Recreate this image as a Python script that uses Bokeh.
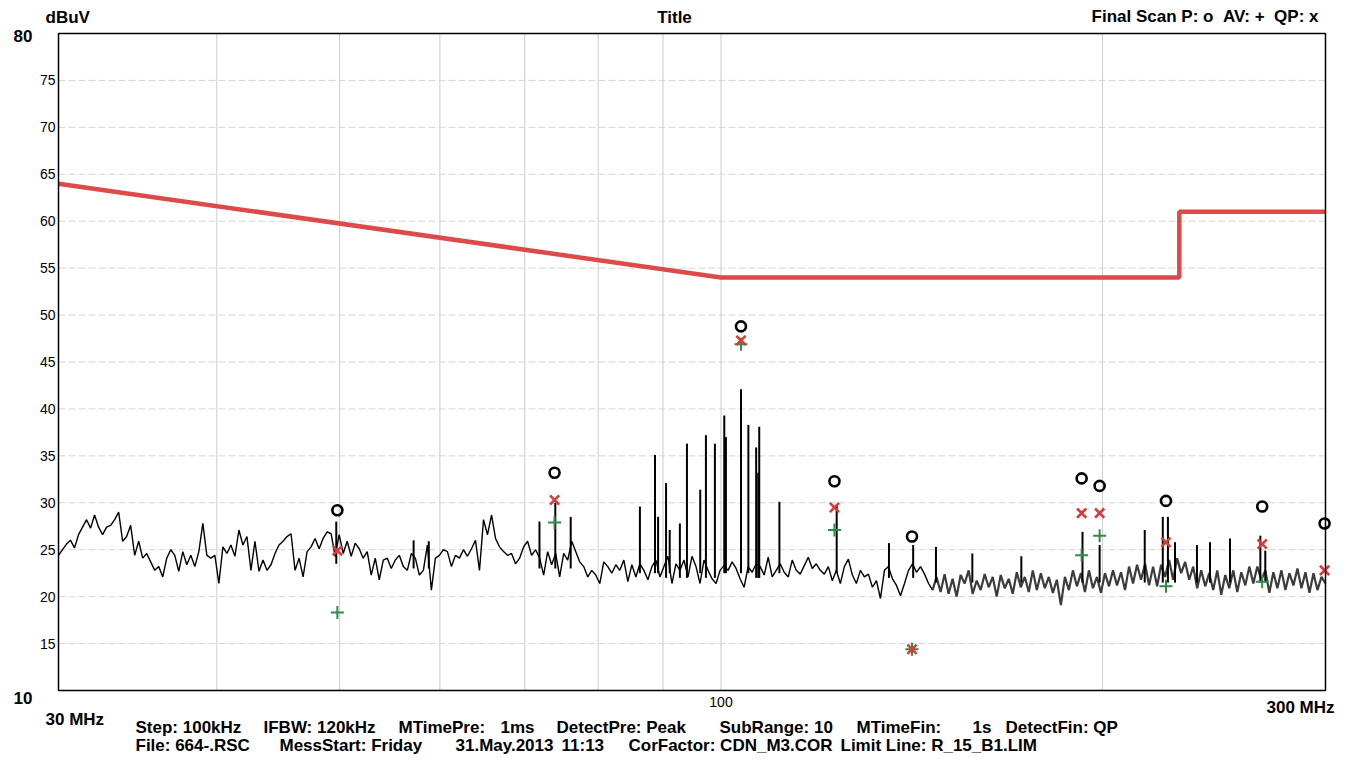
import math
import numpy as np
from bokeh.plotting import figure
from bokeh.models import Range1d
from bokeh.core.properties import value
from bokeh.embed import file_html
from bokeh.resources import INLINE

# ---------------- data ----------------
X_MIN, X_MAX = 30, 300          # MHz
Y_MIN, Y_MAX = 10, 80           # dBuV

limit_mhz = [30, 100, 230, 230, 300]
limit_db = [64.0, 54.0, 54.0, 61.0, 61.0]

# pre-scan trace (peak detector), sampled evenly on the log axis 30..300 MHz
trace_db = [
    24.4, 25.0, 25.6, 26.0, 25.2, 26.6, 27.4, 28.2, 27.3, 28.7, 27.4, 26.6, 27.4, 27.6, 28.2, 29.0, 25.9, 26.4, 27.6, 24.4,
    25.9, 24.1, 24.6, 23.7, 22.8, 23.2, 22.1, 24.1, 25.0, 24.4, 22.7, 24.8, 23.4, 24.4, 23.2, 24.8, 27.8, 24.4, 24.1, 24.4,
    21.4, 25.3, 24.6, 25.5, 24.3, 27.1, 25.5, 26.4, 22.8, 25.9, 22.7, 23.9, 22.8, 23.4, 24.6, 25.5, 25.9, 26.4, 26.7, 22.8,
    24.1, 22.1, 24.8, 25.3, 26.2, 25.1, 26.2, 26.9, 26.7, 24.3, 26.6, 24.6, 25.9, 24.3, 25.7, 25.1, 24.1, 24.8, 22.3, 24.1, 21.8, 23.9,
    24.1, 23.0, 23.9, 24.4, 23.2, 22.8, 24.6, 24.1, 22.3, 22.8, 25.5, 20.7, 24.1, 24.4, 25.0, 24.8, 23.2, 24.4, 24.1, 25.0,
    24.3, 25.1, 26.0, 22.8, 28.2, 26.6, 28.7, 26.2, 25.3, 24.8, 24.4, 24.6, 23.5, 24.1, 25.3, 25.9, 24.4, 25.0, 24.1, 22.3,
    24.8, 23.4, 24.6, 22.1, 24.6, 23.9, 25.9, 24.8, 23.7, 23.2, 22.1, 22.8, 22.3, 21.4, 23.7, 23.2, 22.5, 23.4, 22.8, 23.9,
    21.6, 23.4, 22.1, 23.5, 22.8, 21.8, 23.2, 23.9, 22.1, 23.2, 24.3, 21.4, 23.5, 22.8, 23.9, 22.1, 24.3, 23.2, 21.4, 23.9, 22.8,
    21.9, 21.4, 22.8, 23.3, 22.8, 23.7, 23.0, 21.9, 21.0, 23.2, 22.6, 23.5, 23.2, 22.3, 24.2, 22.1, 22.8, 23.5, 22.6, 22.1,
    23.9, 22.8, 22.4, 23.3, 24.2, 23.0, 23.5, 22.8, 22.4, 23.2, 21.7, 22.8, 21.4, 23.2, 24.0, 22.3, 21.4, 22.8, 22.1, 22.4,
    21.0, 21.7, 19.8, 22.8, 23.2, 21.9, 21.2, 20.1, 21.4, 22.8, 23.5, 22.6, 23.2, 22.4, 21.4, 20.7,
    22.1, 20.5, 22.4, 20.3, 21.9, 20.0, 22.3, 21.4, 22.8, 20.3, 21.7, 20.7, 22.4, 21.0, 22.1, 20.0, 22.3, 20.9, 21.9, 20.3, 22.6, 21.0, 22.1, 20.5,
    22.8, 20.7, 22.5, 20.9, 22.1, 20.4, 21.8, 19.1, 22.1, 20.7, 22.8, 21.1, 22.5, 20.5, 22.8, 20.9, 22.1, 20.4, 22.5, 21.1,
    22.8, 21.2, 22.6, 20.7, 23.2, 21.4, 23.4, 21.8, 23.5, 21.2, 23.2, 21.1, 23.4, 22.1, 23.9, 21.8, 24.1, 22.5, 23.7, 21.8,
    23.2, 20.9, 22.8, 21.1, 22.5, 20.7, 22.8, 20.2, 22.3, 20.9, 22.8, 20.5, 22.6, 21.2, 23.2, 21.4, 23.2, 21.8, 22.8, 20.4,
    22.6, 20.9, 22.8, 20.7, 22.5, 21.2, 23.0, 20.9, 22.6, 20.4, 22.5, 20.7, 22.1, 21.4,
]
dense_start_mhz = 147.0  # trace drawn denser / greyer above this frequency

# narrow emission spikes on the trace
spike_mhz = [49.7, 57.2, 58.8, 71.9, 74.0, 76.1, 86.3, 88.7, 89.2, 90.5, 91.1, 92.8, 94.0, 96.3, 97.3,
             98.9, 100.6, 100.9, 103.7, 105.1, 106.6, 107.0, 107.2, 111.2, 123.4, 135.7, 141.8, 147.8,
             157.9, 172.6, 192.9, 199.0, 216.0, 223.2, 225.3, 228.2, 237.5, 243.2, 252.2, 266.5, 268.9]
spike_top = [28.0, 26.0, 25.9, 28.0, 30.0, 28.5, 29.6, 35.1, 28.5, 32.1, 27.1, 27.8, 36.3, 31.4, 37.2,
             36.3, 39.3, 37.0, 42.1, 38.3, 35.9, 33.2, 38.1, 30.1, 29.7, 25.7, 25.5, 25.3,
             24.6, 24.3, 26.9, 25.5, 27.1, 28.5, 28.5, 25.8, 25.5, 25.8, 26.2, 26.5, 24.9]
spike_low = [23.5, 23.0, 23.0, 23.0, 23.0, 23.0, 22.5, 22.5, 22.5, 22.0, 22.5, 22.0, 22.0, 22.5, 22.0,
             22.0, 22.5, 22.5, 22.5, 22.5, 22.0, 22.0, 22.0, 22.5, 22.5, 22.0, 22.0, 21.5,
             21.5, 21.5, 21.5, 21.5, 21.5, 21.5, 21.5, 21.5, 21.5, 21.5, 21.5, 21.5, 21.5]

# final scan results
final_mhz = [49.8, 73.9, 103.7, 122.9, 141.5, 192.6, 199.0, 224.5, 267.4, 299.5]
peak_db = [29.2, 33.2, 48.8, 32.3, 26.4, 32.6, 31.8, 30.2, 29.6, 27.8]
qp_db = [24.9, 30.3, 47.3, 29.5, 14.4, 28.9, 28.9, 25.8, 25.6, 22.8]
av_mhz = [49.8, 73.9, 103.7, 122.9, 141.5, 192.6, 199.0, 224.5, 267.4]
av_db = [18.3, 27.9, 46.9, 27.1, 14.4, 24.4, 26.5, 21.1, 21.6]

y_ticks = [15, 20, 25, 30, 35, 40, 45, 50, 55, 60, 65, 70, 75]
x_grid = [40, 50, 60, 70, 80, 90, 100, 200]
x_tick_labels = {100: "100"}

# ---------------- layout (pixels) ----------------
W, H = 1345, 760
BOX_L, BOX_R, BOX_T, BOX_B = 58, 1325, 33, 690
FONT = "Liberation Sans"

ppd = (BOX_R - BOX_L) / (math.log10(X_MAX) - math.log10(X_MIN))
x_lo = 10 ** (math.log10(X_MIN) - BOX_L / ppd)
x_hi = 10 ** (math.log10(X_MAX) + (W - BOX_R) / ppd)
ppu = (BOX_B - BOX_T) / (Y_MAX - Y_MIN)
y_hi = Y_MAX + BOX_T / ppu
y_lo = Y_MIN - (H - BOX_B) / ppu

p = figure(width=W, height=H, x_axis_type="log",
           x_range=Range1d(x_lo, x_hi), y_range=Range1d(y_lo, y_hi),
           x_axis_location=None, y_axis_location=None,
           output_backend="svg", toolbar_location=None,
           min_border=0, min_border_left=0, min_border_right=0,
           min_border_top=0, min_border_bottom=0)
p.outline_line_color = None
p.grid.visible = False
p.background_fill_color = "white"
p.border_fill_color = "white"

# grid lines
p.segment(x0=x_grid, y0=[Y_MIN] * len(x_grid), x1=x_grid, y1=[Y_MAX] * len(x_grid),
          line_color="#cccccc", line_width=1)
p.segment(x0=[X_MIN] * len(y_ticks), y0=y_ticks, x1=[X_MAX] * len(y_ticks), y1=y_ticks,
          line_color="#d6d6d6", line_width=1, line_dash="7 3")

# trace
trace_mhz = np.geomspace(X_MIN, X_MAX, len(trace_db))
tdb = np.array(trace_db)
m1 = trace_mhz <= dense_start_mhz
m2 = trace_mhz >= trace_mhz[m1][-1]
p.line(trace_mhz[m1], tdb[m1], line_color="black", line_width=1.4)
p.line(trace_mhz[m2], tdb[m2], line_color="#3c3c3c", line_width=2.2)
p.segment(x0=spike_mhz, y0=spike_low, x1=spike_mhz, y1=spike_top, line_color="black", line_width=2)

# limit line
p.line(limit_mhz, limit_db, line_color="#dd4a4a", line_width=4.5)

# final scan markers
p.scatter(av_mhz, av_db, marker="cross", size=13, line_color="#2e8b4a", line_width=2)
p.scatter(final_mhz, qp_db, marker="x", size=13, line_color="#d93c3c", line_width=2.6)
p.scatter(final_mhz, peak_db, marker="circle", size=10, fill_color=None, line_color="black", line_width=2.6)

# plot box
p.quad(left=[X_MIN], right=[X_MAX], bottom=[Y_MIN], top=[Y_MAX], fill_color=None,
       line_color="black", line_width=1.5)

# y tick labels
p.text(x=[X_MIN] * len(y_ticks), y=y_ticks, text=[str(t) for t in y_ticks], x_offset=-3,
       text_align="right", text_baseline="middle", text_font=value(FONT),
       text_font_size=value("14px"), text_color="black")
p.text(x=[X_MIN, X_MIN], y=[Y_MAX, Y_MIN], text=[str(Y_MAX), str(Y_MIN)], x_offset=-26,
       y_offset=[2, 7], text_align="right", text_baseline="middle", text_font=value(FONT),
       text_font_size=value("17px"), text_font_style="bold", text_color="black")
# x tick label
p.text(x=list(x_tick_labels.keys()), y=[Y_MIN] * len(x_tick_labels), text=list(x_tick_labels.values()),
       y_offset=11, text_align="center", text_baseline="middle", text_font=value(FONT),
       text_font_size=value("14px"), text_color="black")


def lab(ax, ay, dx, dy, text, size="17px", bold=True, align="left"):
    p.text(x=[ax], y=[ay], text=[text], x_offset=dx, y_offset=dy, text_align=align,
           text_baseline="middle", text_font=value(FONT), text_font_size=value(size),
           text_font_style="bold" if bold else "normal", text_color="black")


NB = "\u00a0"
# header (offsets from the box's top corners)
lab(X_MIN, Y_MAX, 45 - BOX_L, 17 - BOX_T, "dBuV")
lab(X_MIN, Y_MAX, 674 - BOX_L, 17 - BOX_T, "Title", align="center")
lab(X_MAX, Y_MAX, 1318 - BOX_R, 16 - BOX_T,
    "Final Scan P: o" + NB * 2 + "AV: +" + NB * 2 + "QP: x", align="right")
# range ends
lab(X_MIN, Y_MIN, 45 - BOX_L, 719 - BOX_B, "30 MHz")
lab(X_MAX, Y_MIN, 1334 - BOX_R, 707 - BOX_B, "300 MHz", align="right")

# footer
row1 = [(135, "Step: 100kHz"), (263, "IFBW: 120kHz"), (398, "MTimePre:"), (500, "1ms"),
        (556, "DetectPre: Peak"), (719, "SubRange: 10"), (856, "MTimeFin:"), (972, "1s"),
        (1005, "DetectFin: QP")]
row2 = [(135, "File: 664-.RSC"), (279, "MessStart: Friday"), (455, "31.May.2013"), (561, "11:13"),
        (628, "CorFactor: CDN_M3.COR"), (840, "Limit Line: R_15_B1.LIM")]
for x, t in row1:
    lab(X_MIN, Y_MIN, x - BOX_L, 727 - BOX_B, t)
for x, t in row2:
    lab(X_MIN, Y_MIN, x - BOX_L, 745 - BOX_B, t)

open("out.html", "w").write(file_html(p, INLINE))
